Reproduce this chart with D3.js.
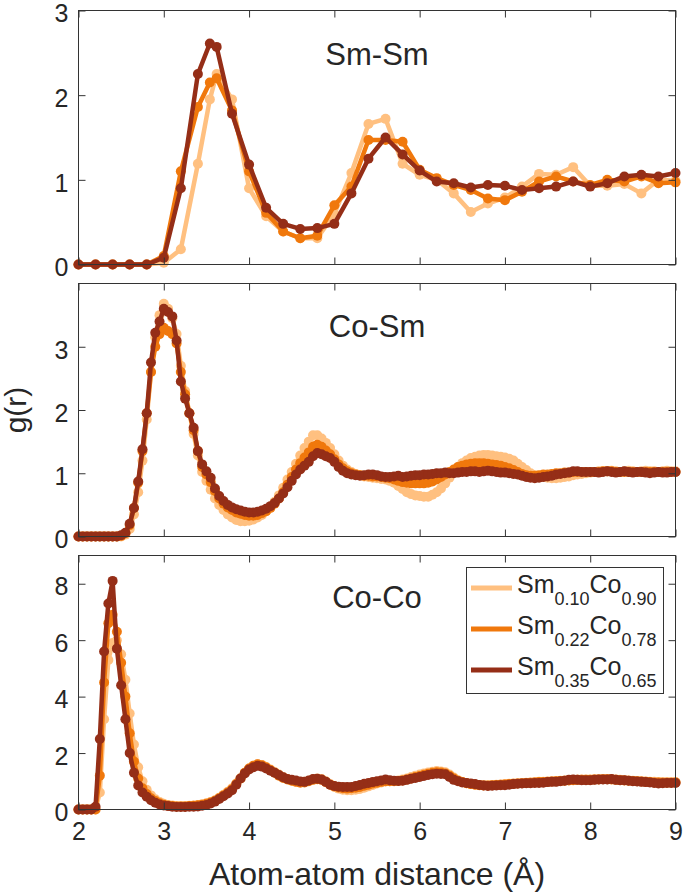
<!DOCTYPE html>
<html><head><meta charset="utf-8">
<script src="https://cdn.jsdelivr.net/npm/d3@7"></script>
<style>
html,body{margin:0;padding:0;background:#fff;}
svg text{font-family:"Liberation Sans",Arial,Helvetica,sans-serif;fill:#262626;}
</style></head>
<body><svg id="c" width="685" height="893"></svg>
<script>
// ---------- data ----------
const seriesNames = ["Sm0.10Co0.90","Sm0.22Co0.78","Sm0.35Co0.65"];
const smFrac = ["0.10","0.22","0.35"];
const coFrac = ["0.90","0.78","0.65"];
const colors = ["#FFC080","#F0780C","#952E17"];
const panelLabels = ["Sm-Sm","Co-Sm","Co-Co"];
const xTicks = [2,3,4,5,6,7,8,9];
const yTicksSmSm = [0,1,2,3];
const yTicksCoSm = [0,1,2,3];
const yTicksCoCo = [0,2,4,6,8];

// Sm-Sm distances (Å)
const rSmSm = [2.0,2.2,2.4,2.6,2.8,3.0,3.2,3.4,3.54,3.62,3.8,4.0,4.2,4.4,4.6,4.8,5.0,5.2,5.4,5.6,5.8,6.0,6.2,6.4,6.6,6.8,7.0,7.2,7.4,7.6,7.8,8.0,8.2,8.4,8.6,8.8,9.0];
const smsm10 = [0,0,0,0,0,0.02,0.18,1.19,1.95,2.25,1.95,0.9,0.57,0.39,0.31,0.31,0.6,1.08,1.66,1.72,1.19,1.06,1.0,0.84,0.62,0.72,0.79,0.92,1.07,1.06,1.15,0.93,0.93,0.95,0.84,1.0,0.99];
const smsm22 = [0,0,0,0,0,0.1,1.1,1.86,2.15,2.2,1.82,1.1,0.61,0.39,0.31,0.34,0.7,0.92,1.47,1.47,1.45,1.12,1.02,0.94,0.88,0.78,0.76,0.86,0.98,1.04,0.98,0.94,1.0,0.98,1.04,0.96,0.97];
const smsm35 = [0,0,0,0,0,0.08,0.9,2.25,2.61,2.57,1.78,1.18,0.67,0.48,0.42,0.43,0.48,0.84,1.25,1.5,1.3,1.11,0.98,0.96,0.91,0.94,0.93,0.88,0.9,0.92,0.98,0.92,0.96,1.04,1.06,1.04,1.08];

// Co-Sm and Co-Co distances: 2.00 .. 9.00 step 0.05
const rFine = d3.range(141).map(i => +(2 + i*0.05).toFixed(2));
const cosm10 = [
0,0,0,0,0,0,0,0,0,0,
0,0.03,0.12,0.35,0.7,1.2,1.85,2.6,3.15,3.5,
3.68,3.6,3.45,3.2,2.7,2.3,1.95,1.62,1.28,1.02,
0.88,0.74,0.6,0.5,0.42,0.35,0.3,0.26,0.24,0.24,
0.25,0.27,0.3,0.34,0.4,0.47,0.55,0.65,0.77,0.9,
1.02,1.15,1.28,1.4,1.5,1.6,1.6,1.55,1.48,1.4,
1.3,1.2,1.12,1.06,1.02,0.99,0.97,0.95,0.94,0.93,
0.92,0.91,0.9,0.88,0.85,0.8,0.75,0.7,0.67,0.65,
0.64,0.63,0.63,0.66,0.7,0.76,0.84,0.93,1.02,1.1,
1.16,1.2,1.24,1.26,1.28,1.29,1.29,1.28,1.27,1.26,
1.25,1.23,1.2,1.15,1.1,1.05,1.0,0.97,0.95,0.94,
0.93,0.92,0.92,0.93,0.94,0.95,0.97,0.98,0.99,1.0,
1.01,1.02,1.03,1.03,1.03,1.04,1.03,1.02,1.03,1.04,
1.03,1.02,1.03,1.04,1.03,1.03,1.02,1.03,1.04,1.03,
1.03];
const cosm22 = [
0,0,0,0,0,0,0,0,0,0,
0.01,0.05,0.18,0.45,0.85,1.35,1.95,2.6,3.0,3.2,
3.3,3.25,3.2,3.05,2.6,2.25,1.95,1.68,1.35,1.1,
0.98,0.86,0.72,0.6,0.52,0.46,0.42,0.38,0.36,0.34,
0.33,0.33,0.34,0.37,0.4,0.45,0.52,0.6,0.7,0.82,
0.94,1.06,1.16,1.25,1.33,1.42,1.45,1.42,1.36,1.3,
1.22,1.14,1.08,1.03,1.0,0.98,0.97,0.96,0.96,0.95,
0.95,0.94,0.93,0.92,0.9,0.88,0.86,0.85,0.84,0.84,
0.84,0.84,0.85,0.87,0.9,0.94,0.98,1.02,1.06,1.1,
1.12,1.14,1.15,1.16,1.16,1.16,1.15,1.14,1.13,1.12,
1.1,1.08,1.05,1.02,0.99,0.97,0.96,0.96,0.97,0.98,
0.98,0.99,1.0,1.0,1.01,1.01,1.02,1.02,1.02,1.02,
1.02,1.02,1.02,1.03,1.03,1.03,1.02,1.02,1.02,1.02,
1.02,1.02,1.02,1.02,1.02,1.02,1.02,1.02,1.02,1.02,
1.02];
const cosm35 = [
0,0,0,0,0,0,0,0,0,0,
0.02,0.06,0.2,0.45,0.87,1.38,1.95,2.75,3.22,3.4,
3.6,3.55,3.48,3.1,2.45,2.18,1.95,1.72,1.35,1.14,
1.03,0.93,0.76,0.64,0.56,0.5,0.46,0.43,0.41,0.39,
0.38,0.38,0.39,0.41,0.44,0.48,0.53,0.6,0.68,0.78,
0.88,0.98,1.06,1.12,1.18,1.27,1.32,1.3,1.27,1.24,
1.18,1.1,1.04,1.0,0.98,0.97,0.96,0.97,0.98,0.98,
0.97,0.95,0.94,0.94,0.95,0.96,0.94,0.95,0.96,0.97,
0.97,0.98,0.98,0.99,1.0,1.0,1.01,1.0,1.0,1.01,
1.02,1.02,1.03,1.03,1.02,1.03,1.04,1.03,1.02,1.01,
1.01,1.0,0.99,0.98,0.96,0.94,0.93,0.92,0.93,0.94,
0.95,0.96,0.98,0.99,1.0,1.01,1.03,1.03,1.02,1.02,
1.02,1.02,1.01,1.02,1.03,1.02,1.01,1.02,1.03,1.02,
1.01,1.02,1.02,1.01,1.0,1.01,1.02,1.01,1.01,1.02,
1.02];
const coco10 = [
0,0,0,0,0,0.6,3.2,5.3,5.9,6.0,
5.5,4.6,3.4,2.3,1.5,1.0,0.7,0.5,0.36,0.27,
0.2,0.16,0.14,0.12,0.12,0.12,0.13,0.14,0.16,0.19,
0.22,0.27,0.33,0.42,0.52,0.63,0.75,0.92,1.1,1.3,
1.45,1.55,1.6,1.58,1.5,1.42,1.33,1.24,1.15,1.08,
1.03,0.99,0.97,0.98,1.02,1.07,1.1,1.08,1.0,0.9,
0.8,0.74,0.7,0.68,0.68,0.7,0.73,0.77,0.82,0.87,
0.92,0.96,0.99,1.0,1.01,1.03,1.06,1.1,1.15,1.2,
1.24,1.28,1.31,1.34,1.36,1.35,1.32,1.24,1.13,1.04,
0.97,0.93,0.9,0.88,0.87,0.86,0.86,0.87,0.88,0.89,
0.9,0.91,0.92,0.93,0.94,0.95,0.96,0.97,0.98,0.98,
0.99,1.0,1.01,1.02,1.03,1.04,1.05,1.05,1.06,1.06,
1.06,1.07,1.07,1.08,1.08,1.07,1.06,1.05,1.04,1.03,
1.02,1.01,1.0,0.99,0.98,0.98,0.97,0.97,0.97,0.97,
0.97];
const coco22 = [
0,0,0,0,0,1.2,4.5,6.6,6.9,6.3,
5.2,4.0,2.7,1.7,1.1,0.75,0.55,0.4,0.3,0.22,
0.17,0.14,0.12,0.11,0.11,0.11,0.12,0.13,0.15,0.17,
0.2,0.25,0.31,0.4,0.5,0.6,0.72,0.9,1.1,1.3,
1.45,1.55,1.6,1.57,1.5,1.4,1.3,1.2,1.12,1.06,
1.02,0.98,0.95,0.96,1.0,1.05,1.07,1.05,0.97,0.88,
0.82,0.78,0.75,0.74,0.75,0.77,0.8,0.84,0.88,0.92,
0.95,0.98,1.0,1.0,1.0,1.01,1.03,1.06,1.1,1.15,
1.19,1.23,1.27,1.3,1.32,1.31,1.28,1.2,1.1,1.02,
0.97,0.93,0.9,0.88,0.86,0.85,0.85,0.86,0.87,0.88,
0.89,0.9,0.91,0.92,0.93,0.94,0.95,0.96,0.97,0.97,
0.98,0.99,1.0,1.01,1.02,1.03,1.04,1.05,1.05,1.05,
1.05,1.06,1.06,1.07,1.07,1.06,1.05,1.04,1.03,1.02,
1.01,1.0,0.99,0.98,0.97,0.96,0.96,0.95,0.95,0.95,
0.96];
const coco35 = [
0,0,0,0,0.1,2.5,5.6,7.3,8.1,5.7,
4.4,3.2,2.0,1.3,0.85,0.6,0.45,0.33,0.24,0.18,
0.14,0.12,0.1,0.09,0.09,0.09,0.1,0.1,0.11,0.13,
0.16,0.21,0.28,0.37,0.47,0.57,0.68,0.88,1.1,1.28,
1.42,1.5,1.55,1.52,1.45,1.37,1.3,1.22,1.14,1.08,
1.05,1.03,0.99,0.98,1.03,1.08,1.09,1.06,0.98,0.88,
0.83,0.81,0.8,0.8,0.8,0.83,0.87,0.91,0.94,0.97,
1.0,1.03,1.06,1.04,1.02,1.01,1.02,1.05,1.09,1.12,
1.15,1.19,1.22,1.25,1.27,1.26,1.25,1.15,1.05,1.0,
0.96,0.94,0.92,0.9,0.87,0.85,0.83,0.84,0.85,0.86,
0.86,0.88,0.9,0.91,0.92,0.93,0.93,0.94,0.94,0.95,
0.97,0.98,0.98,1.0,1.02,1.05,1.06,1.05,1.04,1.04,
1.04,1.05,1.06,1.06,1.06,1.08,1.05,1.04,1.04,1.02,
1.0,0.99,0.98,0.97,0.96,0.94,0.92,0.93,0.94,0.94,
0.94];

// ---------- layout ----------
const svg = d3.select("#c");
const x = d3.scaleLinear().domain([2,9]).range([78.5,675.5]);
const panels = [
  {label:panelLabels[0], top:10.5, bottom:264.5, ymax:3, ticks:yTicksSmSm, r:rSmSm, series:[smsm10,smsm22,smsm35], labelY:65},
  {label:panelLabels[1], top:283.5, bottom:536.5, ymax:4, ticks:yTicksCoSm, r:rFine, series:[cosm10,cosm22,cosm35], labelY:337},
  {label:panelLabels[2], top:555.5, bottom:809.5, ymax:9, ticks:yTicksCoCo, r:rFine, series:[coco10,coco22,coco35], labelY:608}
];
const TICK = 7;

panels.forEach((p, pi) => {
  const y = d3.scaleLinear().domain([0,p.ymax]).range([p.bottom,p.top]);
  const g = svg.append("g");

  // curves
  p.series.forEach((vals, si) => {
    const pts = p.r.map((r,i)=>[r, vals[i]]);
    const line = d3.line().x(d=>x(d[0])).y(d=>y(d[1]));
    g.append("path").attr("d", line(pts)).attr("fill","none")
      .attr("stroke", colors[si]).attr("stroke-width", 4.5).attr("stroke-linejoin","round");
    g.selectAll(null).data(pts).enter().append("circle")
      .attr("cx", d=>x(d[0])).attr("cy", d=>y(d[1])).attr("r", 5)
      .attr("fill", colors[si]);
  });

  // axes
  const left = g.append("g").attr("transform",`translate(${x.range()[0]},0)`)
    .call(d3.axisLeft(y).tickValues(p.ticks).tickSizeInner(-TICK).tickSizeOuter(0).tickPadding(10).tickFormat(d3.format("d")));
  const right = g.append("g").attr("transform",`translate(${x.range()[1]},0)`)
    .call(d3.axisRight(y).tickValues(p.ticks).tickSizeInner(-TICK).tickSizeOuter(0).tickFormat(""));
  const top = g.append("g").attr("transform",`translate(0,${p.top})`)
    .call(d3.axisTop(x).tickValues(xTicks).tickSizeInner(-TICK).tickSizeOuter(0).tickFormat(""));
  const bottom = g.append("g").attr("transform",`translate(0,${p.bottom})`)
    .call(d3.axisBottom(x).tickValues(xTicks).tickSizeInner(-TICK).tickSizeOuter(0).tickPadding(12)
      .tickFormat(pi===2 ? d3.format("d") : ""));
  [left,right,top,bottom].forEach(a => {
    a.select(".domain").remove();
    a.selectAll("line").attr("stroke","#333").attr("stroke-width",1);
    a.selectAll("text").attr("font-size",25).attr("fill","#262626")
      .style("font-family",'"Liberation Sans",Arial,sans-serif');
  });
  left.selectAll("text").attr("dy","0.45em");
  bottom.selectAll("text").attr("dy","0.72em");

  g.append("rect").attr("x",x.range()[0]).attr("y",p.top)
    .attr("width",x.range()[1]-x.range()[0]).attr("height",p.bottom-p.top)
    .attr("fill","none").attr("stroke","#333").attr("stroke-width",1);

  g.append("text").attr("x",(x.range()[0]+x.range()[1])/2).attr("y",p.labelY)
    .attr("text-anchor","middle").attr("font-size",31).attr("fill","#000").text(p.label);

  // legend in bottom panel
  if (pi === 2) {
    const lg = g.append("g");
    lg.append("rect").attr("x",466.5).attr("y",567.5).attr("width",197).attr("height",126)
      .attr("fill","#fff").attr("stroke","#333").attr("stroke-width",1);
    seriesNames.forEach((nm, si) => {
      const ly = 588 + si*41;
      lg.append("line").attr("x1",471).attr("x2",512).attr("y1",ly).attr("y2",ly)
        .attr("stroke",colors[si]).attr("stroke-width",5);
      const t = lg.append("text").attr("x",517).attr("y",ly+5).attr("font-size",25).attr("fill","#000");
      t.append("tspan").text("Sm");
      t.append("tspan").attr("dy",12).attr("font-size",18).text(smFrac[si]);
      t.append("tspan").attr("dy",-12).text("Co");
      t.append("tspan").attr("dy",12).attr("font-size",18).text(coFrac[si]);
    });
  }
});

// axis titles
svg.append("text").attr("x",(x.range()[0]+x.range()[1])/2).attr("y",885)
  .attr("text-anchor","middle").attr("font-size",32).text("Atom-atom distance (Å)");
svg.append("text").attr("transform","translate(26,410) rotate(-90)")
  .attr("text-anchor","middle").attr("font-size",30).text("g(r)");
</script></body></html>
